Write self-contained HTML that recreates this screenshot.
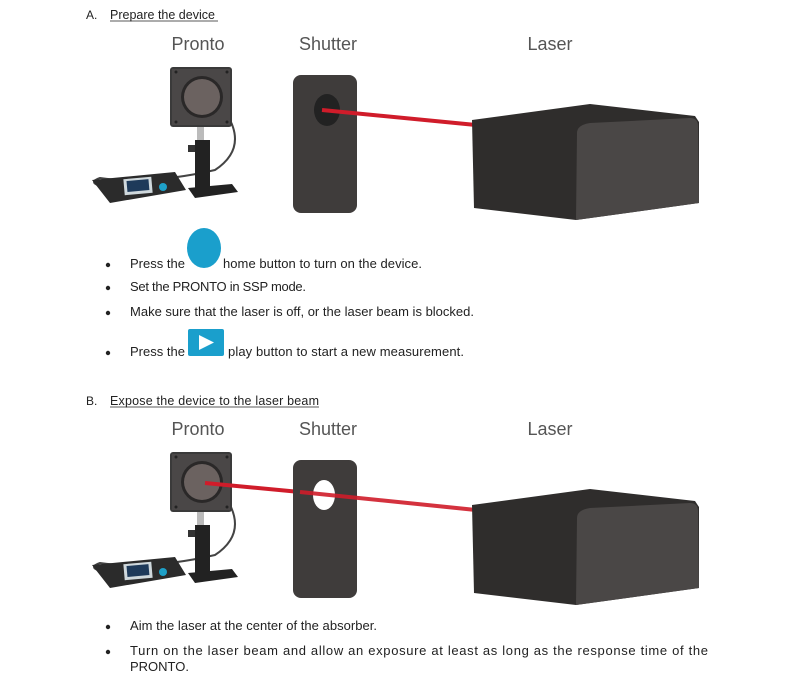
<!DOCTYPE html>
<html><head><meta charset="utf-8"><style>
body{margin:0;background:#fff;}
svg{display:block;font-family:"Liberation Sans",sans-serif;}
</style></head><body>
<svg width="793" height="694" viewBox="0 0 793 694" xmlns="http://www.w3.org/2000/svg">
<defs>
<g id="pronto">
  <path d="M230 120 Q245 150 215 170 Q150 185 100 178 Q88 182 100 186" fill="none" stroke="#444" stroke-width="2"/>
  <polygon points="92,180 175,172 186,190 110,203" fill="#2b2b2b"/>
  <rect x="124" y="178" width="28" height="16" fill="#cfd8dc" transform="rotate(-5 138 186)"/>
  <rect x="127" y="180" width="22" height="11" fill="#1e3a5a" transform="rotate(-5 138 186)"/>
  <circle cx="163" cy="187" r="4" fill="#1ea0c8"/>
  <rect x="197" y="125" width="7" height="15" fill="#bbb"/>
  <rect x="195" y="140" width="15" height="50" fill="#222"/>
  <rect x="188" y="145" width="7" height="7" fill="#333"/>
  <polygon points="188,188 232,184 238,192 195,198" fill="#222"/>
  <rect x="170" y="67" width="62" height="60" rx="3" fill="#3a3a3a"/>
  <rect x="172" y="69" width="58" height="56" fill="#4a4747"/>
  <circle cx="202" cy="97" r="21" fill="#2a2828"/>
  <circle cx="202" cy="97" r="18" fill="#6b6260"/>
  <circle cx="176" cy="72" r="1.5" fill="#222"/><circle cx="227" cy="72" r="1.5" fill="#222"/>
  <circle cx="176" cy="122" r="1.5" fill="#222"/><circle cx="227" cy="122" r="1.5" fill="#222"/>
</g>
<g id="laser">
  <polygon points="472,120 590,104 695,116 699,122 699,203 576,220 474,208" fill="#2f2d2c"/>
  <path d="M577,133 Q577,125 590,123 L690,118 Q698,118 698,126 L699,203 L576,220 Z" fill="#4a4746"/>
</g>
</defs>

<text x="86" y="19" font-size="12" fill="#222">A.</text>
<text x="110" y="19" font-size="12.5" fill="#222">Prepare the device</text>
<line x1="110" y1="21" x2="218" y2="21" stroke="#222" stroke-width="0.8"/>
<text x="198" y="50" font-size="18" fill="#555" text-anchor="middle">Pronto</text>
<text x="328" y="50" font-size="18" fill="#555" text-anchor="middle">Shutter</text>
<text x="550" y="50" font-size="18" fill="#555" text-anchor="middle">Laser</text>
<use href="#pronto"/>
<rect x="293" y="75" width="64" height="138" rx="8" fill="#3f3c3b"/>
<ellipse cx="327" cy="110" rx="13" ry="16" fill="#222"/>
<line x1="322" y1="110" x2="476" y2="125" stroke="#d01c2a" stroke-width="4"/>
<use href="#laser"/>

<g font-size="13" fill="#222">
<circle cx="108" cy="265" r="2.2" fill="#222"/><text x="130" y="268" textLength="55">Press the</text><text x="223" y="268" textLength="199">home button to turn on the device.</text>
<circle cx="108" cy="288" r="2.2" fill="#222"/><text x="130" y="291" textLength="176">Set the PRONTO in SSP mode.</text>
<circle cx="108" cy="313" r="2.2" fill="#222"/><text x="130" y="316" textLength="344">Make sure that the laser is off, or the laser beam is blocked.</text>
<circle cx="108" cy="353" r="2.2" fill="#222"/><text x="130" y="356" textLength="55">Press the</text><text x="228" y="356" textLength="236">play button to start a new measurement.</text>
</g>
<ellipse cx="204" cy="248" rx="17" ry="20" fill="#1a9fcc"/>
<rect x="188" y="329" width="36" height="27" rx="2" fill="#1a9fcc"/>
<polygon points="199,335 199,350 214,342.5" fill="#fff"/>

<text x="86" y="405" font-size="12" fill="#222">B.</text>
<text x="110" y="405" font-size="12.5" fill="#222" textLength="209">Expose the device to the laser beam</text>
<line x1="110" y1="407" x2="319" y2="407" stroke="#222" stroke-width="0.8"/>
<text x="198" y="435" font-size="18" fill="#555" text-anchor="middle">Pronto</text>
<text x="328" y="435" font-size="18" fill="#555" text-anchor="middle">Shutter</text>
<text x="550" y="435" font-size="18" fill="#555" text-anchor="middle">Laser</text>
<g transform="translate(0,385)">
<use href="#pronto"/>
<line x1="205" y1="98" x2="300" y2="107" stroke="#d01c2a" stroke-width="4"/>
<rect x="293" y="75" width="64" height="138" rx="8" fill="#3f3c3b"/>
<ellipse cx="324" cy="110" rx="11" ry="15" fill="#fff"/>
<line x1="300" y1="107" x2="476" y2="125" stroke="#d01c2a" stroke-width="4" opacity="0.9"/>
<use href="#laser"/>
</g>

<g font-size="13" fill="#222">
<circle cx="108" cy="627" r="2.2" fill="#222"/><text x="130" y="630" textLength="247">Aim the laser at the center of the absorber.</text>
<circle cx="108" cy="652" r="2.2" fill="#222"/><text x="130" y="655" textLength="578" lengthAdjust="spacing">Turn on the laser beam and allow an exposure at least as long as the response time of the</text>
<text x="130" y="671">PRONTO.</text>
</g>
</svg>
</body></html>
